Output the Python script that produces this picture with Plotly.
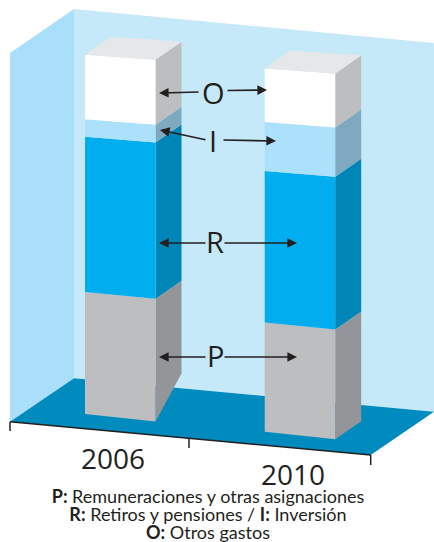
import plotly.graph_objects as go

# ---- data (relative height of each stacked segment)
years = ["2006", "2010"]
segment_names = ["P", "R", "I", "O"]
p_values = [33.9, 30.3]
r_values = [43.1, 42.1]
i_values = [4.9, 13.6]
o_values = [17.9, 14.9]
legend_lines = [
    "<b>P:</b> Remuneraciones y otras asignaciones",
    "<b>R:</b> Retiros y pensiones / <b>I:</b> Inversión",
    "<b>O:</b> Otros gastos",
]

# ---- styles
front_colors = {"P": "#bcbec0", "R": "#00aeef", "I": "#abe1fb", "O": "#ffffff"}
side_colors = {"P": "#939598", "R": "#0085b7", "I": "#7fa9c0", "O": "#bcbec0"}
top_color = "#e6e7e8"
ink = "#231f20"
FONT = "Open Sans"

# ---- oblique projection of the scene
UNIT = 3.6                     # px per value unit
BAR_W = 70.5
DEPTH = (26, -18)
bars = [dict(x=85, base=414, lift=30), dict(x=264.7, base=431.7, lift=0)]


def slope(h):
    return 0.108 - 0.036 * h / 360


def left(bar, h):
    return bar["x"], bar["base"] - h


def right(bar, h):
    return bar["x"] + BAR_W, bar["base"] - h + BAR_W * slope(h)


def back(pt):
    return pt[0] + DEPTH[0], pt[1] + DEPTH[1]


fig = go.Figure()


def poly(points, color):
    xs = [p[0] for p in points] + [points[0][0]]
    ys = [p[1] for p in points] + [points[0][1]]
    fig.add_trace(go.Scatter(x=xs, y=ys, mode="lines", fill="toself", fillcolor=color,
                             line=dict(width=0, color=color), hoverinfo="skip", showlegend=False))


# room
poly([(10, 53), (74, 9), (74, 378.3), (10, 421.7)], "#a9dffb")
poly([(74, 9), (434, 43), (434, 411.7), (74, 378.3)], "#c6e9fa")
poly([(10, 421.7), (74, 378.3), (434, 411.7), (370.7, 455)], "#008bbf")

# bars
series = {"P": p_values, "R": r_values, "I": i_values, "O": o_values}
for b, bar in enumerate(bars):
    h = 0
    for name in segment_names:
        top = h + series[name][b] * UNIT
        fl, fr, tl, tr = left(bar, h), right(bar, h), left(bar, top), right(bar, top)
        bottom_back = back(fr)
        if h == 0:
            bottom_back = (bottom_back[0], bottom_back[1] - bar["lift"])
        poly([fr, bottom_back, back(tr), tr], side_colors[name])
        poly([fl, fr, tr, tl], front_colors[name])
        h = top
    tl, tr = left(bar, h), right(bar, h)
    poly([tl, tr, back(tr), back(tl)], top_color)

# category axis drawn on the floor edge
for seg in [[(10, 421.7), (370.7, 455)], [(10, 421.7), (10, 431)], [(189, 438), (189, 448)], [(370.7, 455), (370.7, 465)]]:
    fig.add_trace(go.Scatter(x=[p[0] for p in seg], y=[p[1] for p in seg], mode="lines",
                             line=dict(color=ink, width=1.5), hoverinfo="skip", showlegend=False))

annotations = []


def text(x, y, s, size, family=FONT):
    annotations.append(dict(x=x, y=y, xref="x", yref="y", text=s, showarrow=False, borderpad=0,
                            font=dict(family=family, size=size, color=ink), xanchor="center", yanchor="middle"))


def arrow(x0, y0, x1, y1):
    annotations.append(dict(x=x1, y=y1, ax=x0, ay=y0, xref="x", yref="y", axref="x", ayref="y", text="",
                            showarrow=True, arrowhead=2, arrowsize=1.2, arrowwidth=1.6, arrowcolor=ink))


for s, x, y in [("O", 213, 92.5), ("I", 213, 140.5), ("R", 215, 241.5), ("P", 215, 355.5)]:
    text(x, y, s, 29)
for a in [(200, 92, 159, 93), (226, 90.5, 267, 90), (207, 140, 160, 130), (222, 140, 276, 141),
          (207, 243, 159, 243), (223, 243, 297, 243), (207, 357, 159, 357), (223, 357, 297, 357)]:
    arrow(*a)
text(113, 458, years[0], 28)
text(293, 474, years[1], 28)

fig.add_trace(go.Scatter(x=[208, 208, 208], y=[498.5, 516.5, 534.5], mode="text", text=legend_lines,
                         textposition="middle center", cliponaxis=False,
                         textfont=dict(family="Lato", size=18, color=ink),
                         hoverinfo="skip", showlegend=False))

fig.update_layout(width=434, height=542, margin=dict(l=0, r=0, t=0, b=0),
                  paper_bgcolor="white", plot_bgcolor="white", annotations=annotations, showlegend=False,
                  xaxis=dict(range=[0, 434], visible=False), yaxis=dict(range=[542, 0], visible=False))
fig.write_html("out.html", post_script="document.body.style.margin='0';", config={"displayModeBar": False})
